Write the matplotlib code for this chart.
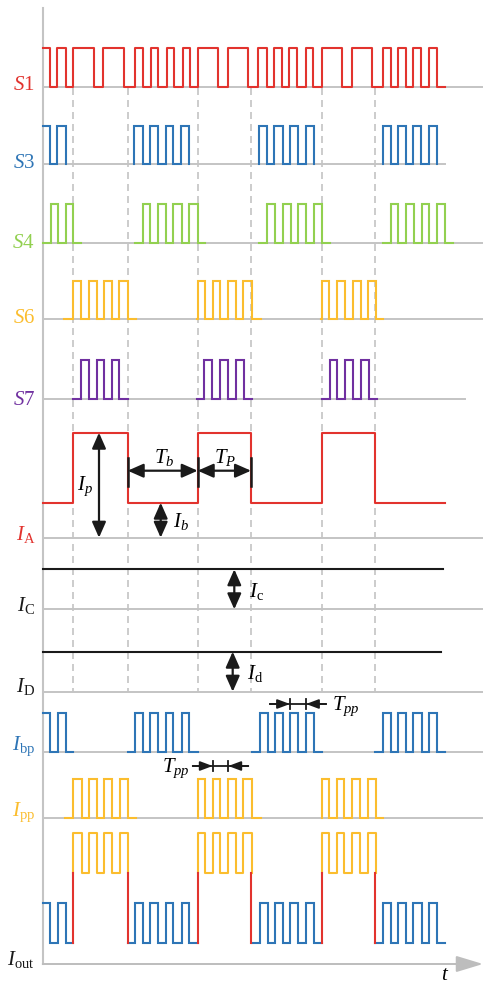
import matplotlib.pyplot as plt

plt.rcParams['font.family'] = ['Liberation Serif', 'DejaVu Serif']
plt.rcParams['mathtext.fontset'] = 'custom'
plt.rcParams['mathtext.rm'] = 'Liberation Serif'
plt.rcParams['mathtext.it'] = 'Liberation Serif:italic'

RED = '#e2332e'
BLUE = '#2e75b6'
GREEN = '#92d050'
YELLOW = '#fbbd2e'
PURPLE = '#7030a0'
GRAY = '#c4c4c4'
BLACK = '#1a1a1a'

# time axis: trace starts at t0, drawn out to t_end
t0, t_end = 42.7, 445.0

# I_A edges = boundaries between bias (blue) and pulse (yellow) phases
ia_start, ia_end = 43.3, 445.0
ia_toggles = [73.3, 127.7, 197.7, 251.0, 321.5, 375.3]

# S1: one continuous trace, starts high
s1_toggles = [50, 57.3, 65.7, 73.3, 94.3, 103.3, 124.3, 135, 143.3, 151, 158.3,
              166.7, 174, 182.7, 190, 197.7, 218.3, 227.7, 248.3, 258.3, 266.7,
              274, 281.7, 289.3, 297.3, 305.7, 313.3, 321.7, 342.3, 351.7, 372.3,
              382.7, 390.7, 398.3, 406, 413, 421, 429, 436.7]

# S3: groups of pulses
s3_start = [42.7, 134.3, 259.3, 382.7]
s3_end = [65.7, 189.3, 314.0, 436.7]
s3_high_first = [True, False, False, False]
s3_toggles = [[50, 57.3, 65.7],
              [134.3, 142.7, 150, 158.3, 165.7, 173.3, 181, 189.3],
              [259.3, 266.7, 274.3, 282.7, 290, 297.7, 306, 314],
              [382.7, 390.7, 398.3, 406, 413.3, 421, 429, 436.7]]

# S4
s4_start = [43.3, 135.0, 259.3, 382.7]
s4_end = [80.7, 205.0, 330.0, 452.7]
s4_toggles = [[50.7, 58.3, 65.7, 73.3],
              [142.7, 150, 157.7, 165.7, 173.3, 181.7, 189.3, 197.7],
              [267.3, 275, 282.7, 290.7, 298.3, 306, 314, 322.3],
              [391, 398.3, 406, 414, 421.7, 429.3, 437.3, 445]]

# S6
s6_start = [64.3, 197.0, 321.0]
s6_end = [135.7, 260.7, 383.3]
s6_toggles = [[73.3, 81, 89, 96.7, 104, 111.7, 119.3, 127.7],
              [197.7, 205, 212.7, 220, 227.7, 235.7, 243.3, 251.7],
              [321.7, 329.3, 336.7, 345, 352.7, 360.7, 368.3, 376]]

# S7
s7_start = [72.7, 196.7, 321.7]
s7_end = [127.7, 251.7, 376.7]
s7_toggles = [[81, 89, 96.7, 104.3, 111.7, 119.3],
              [204.3, 212.3, 220, 228.3, 235.7, 244.3],
              [330, 337.3, 345, 353.3, 361, 369.3]]

# I_bp
ibp_start = [42.7, 127.7, 251.7, 375.0]
ibp_end = [73.3, 197.7, 322.3, 445.0]
ibp_high_first = [True, False, False, False]
ibp_toggles = [[50, 58.3, 65.7],
               [135, 142.7, 150, 158.3, 165.7, 173.3, 181.7, 189.3],
               [260, 267.7, 275, 282.7, 290, 298.3, 306, 314],
               [382.7, 390.7, 398.3, 406, 413.3, 421.7, 429, 437.3]]

# I_pp
ipp_start = [65.0, 197.7, 321.7]
ipp_end = [135.7, 261.0, 383.3]
ipp_toggles = [[73.3, 81.7, 89, 96.7, 104.3, 112.3, 120, 127.7],
               [197.7, 205, 212.7, 220, 228.3, 236, 243.3, 251.7],
               [321.7, 329.3, 336.7, 344.3, 352, 360, 368.3, 376]]

# levels (low, high) for each row, measured downward like the picture
s1_lv = (87.3, 47.7)
s3_lv = (164.3, 125.7)
s4_lv = (243.3, 204.3)
s6_lv = (319.3, 280.7)
s7_lv = (399.3, 360.0)
ia_lv = (502.7, 432.7)
ic_lv = 569.3
id_lv = 651.7
ibp_lv = (752.3, 713.3)
ipp_lv = (817.7, 779.0)
out_blue_lv = (942.7, 903.3)
out_yel_lv = (872.7, 833.3)

# zero lines of every row and how far right they go
zero_y = [87.3, 164.3, 243.3, 319.3, 399.3, 537.7, 609.3, 691.7, 752.3, 817.7]
zero_xmax = [483, 445, 483, 483, 465, 483, 483, 483, 483, 483]
t_axis_y = 964.0

row_labels = ['$S$1', '$S$3', '$S$4', '$S$6', '$S$7', r'$I_{\mathrm{A}}$',
              r'$I_{\mathrm{C}}$', r'$I_{\mathrm{D}}$', r'$I_{\mathrm{bp}}$',
              r'$I_{\mathrm{pp}}$', r'$I_{\mathrm{out}}$']
label_base = [90.5, 167.5, 248, 323, 405, 540, 610.5, 692, 750, 816, 965]
label_colors = [RED, BLUE, GREEN, YELLOW, PURPLE, RED, BLACK, BLACK, BLUE, YELLOW, BLACK]


def step_xy(start, toggles, end, lv, high_first=False):
    lo, hi = lv
    xs = [start]
    ys = [hi if high_first else lo]
    for x in toggles:
        xs += [x, x]
        ys += [ys[-1], lo if ys[-1] == hi else hi]
    xs.append(end)
    ys.append(ys[-1])
    return xs, ys


def draw_groups(ax, starts, toggles, ends, lv, color, high_first=None, shift=0.0):
    for i in range(len(starts)):
        hf = high_first[i] if high_first else False
        xs, ys = step_xy(starts[i], toggles[i], ends[i], lv, hf)
        ax.plot(xs, [y + shift for y in ys], color=color, lw=1.5,
                solid_joinstyle='miter', zorder=3)


def double_arrow(ax, p1, p2, hl=0.95, hw=0.42):
    ax.annotate('', xy=p2, xytext=p1,
                arrowprops=dict(arrowstyle=f'<|-|>,head_length={hl},head_width={hw}',
                                color=BLACK, lw=1.6, shrinkA=0, shrinkB=0,
                                mutation_scale=10), zorder=5)


def tpp_marker(ax, xa, xb, y, span=20):
    ax.plot([xa - span, xb + span], [y, y], color=BLACK, lw=1.3, zorder=5)
    for x0, x1 in [(xa - span, xa), (xb + span, xb)]:
        ax.annotate('', xy=(x1, y), xytext=(x0, y),
                    arrowprops=dict(arrowstyle='-|>,head_length=0.75,head_width=0.28',
                                    color=BLACK, lw=1.3, shrinkA=0, shrinkB=0,
                                    mutation_scale=10), zorder=5)
        ax.plot([x1, x1], [y - 5, y + 5], color=BLACK, lw=1.3, zorder=5)


fig = plt.figure(figsize=(4.83, 9.86), dpi=100)
ax = fig.add_axes([0, 0, 1, 1])
ax.set_xlim(0, 483)
ax.set_ylim(986, 0)
ax.axis('off')

# axes: vertical line, zero lines, time arrow
ax.plot([t0, t0], [8, t_axis_y], color=GRAY, lw=1.5, zorder=1)
for y, xm in zip(zero_y, zero_xmax):
    ax.plot([t0, xm], [y, y], color=GRAY, lw=1.4, zorder=1)
ax.annotate('', xy=(483, t_axis_y), xytext=(t0, t_axis_y),
            arrowprops=dict(arrowstyle='-|>,head_length=1.65,head_width=0.5',
                            color='#bdbdbd', lw=1.4, shrinkA=0, shrinkB=0,
                            mutation_scale=10), zorder=1)
ax.text(445, 980, '$t$', fontsize=15, ha='center', va='baseline')

# dashed phase boundaries
for x in ia_toggles:
    ax.plot([x, x], [88, 691.7], color=GRAY, lw=1.2, ls=(0, (4.2, 3)), zorder=2)

# switch signals
xs, ys = step_xy(t0, s1_toggles, t_end, s1_lv, True)
ax.plot(xs, ys, color=RED, lw=1.5, zorder=3)
draw_groups(ax, s3_start, s3_toggles, s3_end, s3_lv, BLUE, s3_high_first)
draw_groups(ax, s4_start, s4_toggles, s4_end, s4_lv, GREEN)
draw_groups(ax, s6_start, s6_toggles, s6_end, s6_lv, YELLOW)
draw_groups(ax, s7_start, s7_toggles, s7_end, s7_lv, PURPLE)

# I_A, I_C, I_D
xs, ys = step_xy(ia_start, ia_toggles, ia_end, ia_lv)
ax.plot(xs, ys, color=RED, lw=1.5, zorder=3)
ax.plot([t0, 442.7], [ic_lv, ic_lv], color=BLACK, lw=1.5, zorder=3)
ax.plot([t0, 441.0], [id_lv, id_lv], color=BLACK, lw=1.5, zorder=3)

# I_bp, I_pp
draw_groups(ax, ibp_start, ibp_toggles, ibp_end, ibp_lv, BLUE, ibp_high_first)
draw_groups(ax, ipp_start, ipp_toggles, ipp_end, ipp_lv, YELLOW)

# I_out = I_bp during bias phases, I_pp on top during pulse phases
draw_groups(ax, ibp_start, ibp_toggles, ibp_end, out_blue_lv, BLUE, ibp_high_first)
for tg in ipp_toggles:
    xs, ys = step_xy(tg[0], tg, tg[-1], out_yel_lv)
    ax.plot(xs, ys, color=YELLOW, lw=1.5, zorder=3)
for x in ia_toggles:
    ax.plot([x, x], [out_blue_lv[0], out_yel_lv[0]], color=RED, lw=1.5, zorder=4)

# annotations on I_A
ia_zero = zero_y[5]
double_arrow(ax, (99, ia_lv[1]), (99, ia_zero))
double_arrow(ax, (160.7, ia_lv[0]), (160.7, ia_zero))
double_arrow(ax, (ia_toggles[1], 470.7), (ia_toggles[2], 470.7))
double_arrow(ax, (ia_toggles[2], 470.7), (ia_toggles[3], 470.7))
for x in ia_toggles[1:4]:
    ax.plot([x, x], [458, 486], color=BLACK, lw=1.8, zorder=4)
double_arrow(ax, (234.3, ic_lv), (234.3, zero_y[6]))
double_arrow(ax, (232.7, id_lv), (232.7, zero_y[7]))

fs = 15
ax.text(85, 486, r'$I_p$', fontsize=fs, ha='center', va='center')
ax.text(164, 457, r'$T_b$', fontsize=fs, ha='center', va='center')
ax.text(225, 457, r'$T_P$', fontsize=fs, ha='center', va='center')
ax.text(181, 522, r'$I_b$', fontsize=fs, ha='center', va='center')
ax.text(257, 592, r'$I_{\mathrm{c}}$', fontsize=fs, ha='center', va='center')
ax.text(255, 674, r'$I_{\mathrm{d}}$', fontsize=fs, ha='center', va='center')

# T_pp markers
tpp_marker(ax, ibp_toggles[2][4], ibp_toggles[2][6], 704)
ax.text(332, 706, r'$T_{pp}$', fontsize=fs, ha='left', va='center')
tpp_marker(ax, ipp_toggles[1][2], ipp_toggles[1][4], 766)
ax.text(190, 768, r'$T_{pp}$', fontsize=fs, ha='right', va='center')

# row labels
for lab, yb, c in zip(row_labels, label_base, label_colors):
    ax.text(35, yb, lab, fontsize=fs, color=c, ha='right', va='baseline')

fig.savefig('out.png', dpi=100)
